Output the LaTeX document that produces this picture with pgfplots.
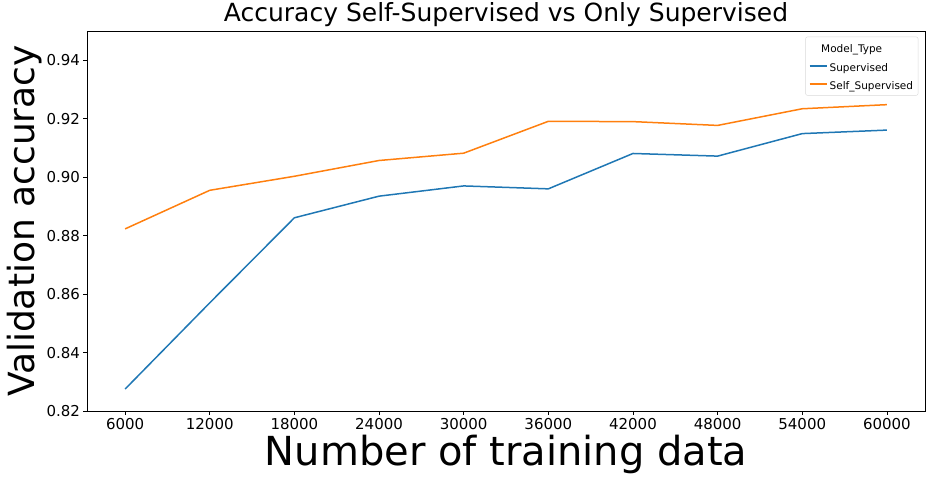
\documentclass[border=0pt]{standalone}
\usepackage{pgfplots}
\pgfplotsset{compat=1.18}
\usepackage{fontspec}
\setmainfont{DejaVu Sans}
\definecolor{tabblue}{HTML}{1F77B4}
\definecolor{taborange}{HTML}{FF7F0E}
\begin{document}
\begin{tikzpicture}
\begin{axis}[
  scale only axis,
  width=838pt, height=380pt,
  xmin=3300, xmax=62700,
  ymin=0.82, ymax=0.95,
  scaled x ticks=false, scaled y ticks=false,
  /pgf/number format/assume math mode=true,
  xtick={6000,12000,18000,24000,30000,36000,42000,48000,54000,60000},
  xticklabels={6000,12000,18000,24000,30000,36000,42000,48000,54000,60000},
  ytick={0.82,0.84,0.86,0.88,0.90,0.92,0.94},
  yticklabels={0.82,0.84,0.86,0.88,0.90,0.92,0.94},
  tick label style={font=\fontsize{15}{18}\selectfont},
  tick align=outside,
  major tick length=3.5pt,
  xtick pos=bottom, ytick pos=left,
  axis line style={line width=0.8pt},
  tick style={line width=0.8pt, black},
  title={Accuracy Self-Supervised vs Only Supervised},
  title style={font=\fontsize{25}{28}\selectfont, yshift=-5pt},
  xlabel={Number of training data},
  xlabel style={font=\fontsize{40}{48}\selectfont, yshift=1pt},
  ylabel={Validation accuracy},
  ylabel style={font=\fontsize{36}{42}\selectfont, yshift=-2pt},
  legend style={at={(0.992,0.985)}, anchor=north east, draw=black!15, rounded corners=2pt,
    font=\fontsize{10.5}{12}\selectfont},
  legend cell align=left,
  legend image post style={line width=2pt},
]
\addlegendimage{empty legend}
\addlegendentry{\hspace{-1.7em}\makebox[7.6em][c]{\rule[-4pt]{0pt}{16pt}Model\_Type}}
\addplot[tabblue, line width=1.5pt] coordinates {
(6000,0.8275) (12000,0.857) (18000,0.8861) (24000,0.8935) (30000,0.8970)
(36000,0.8960) (42000,0.9081) (48000,0.9072) (54000,0.9149) (60000,0.9161)};
\addlegendentry{\rule[-4pt]{0pt}{17pt}Supervised}
\addplot[taborange, line width=1.5pt] coordinates {
(6000,0.8823) (12000,0.8955) (18000,0.9003) (24000,0.9057) (30000,0.9082)
(36000,0.9191) (42000,0.9190) (48000,0.9177) (54000,0.9234) (60000,0.9248)};
\addlegendentry{\rule[-4pt]{0pt}{17pt}Self\_Supervised}
\end{axis}
\pgfresetboundingbox
\path[use as bounding box] (current axis.south west) ++(-87pt,-74pt) rectangle ([shift={(4pt,31pt)}]current axis.north east);
\end{tikzpicture}
\end{document}
